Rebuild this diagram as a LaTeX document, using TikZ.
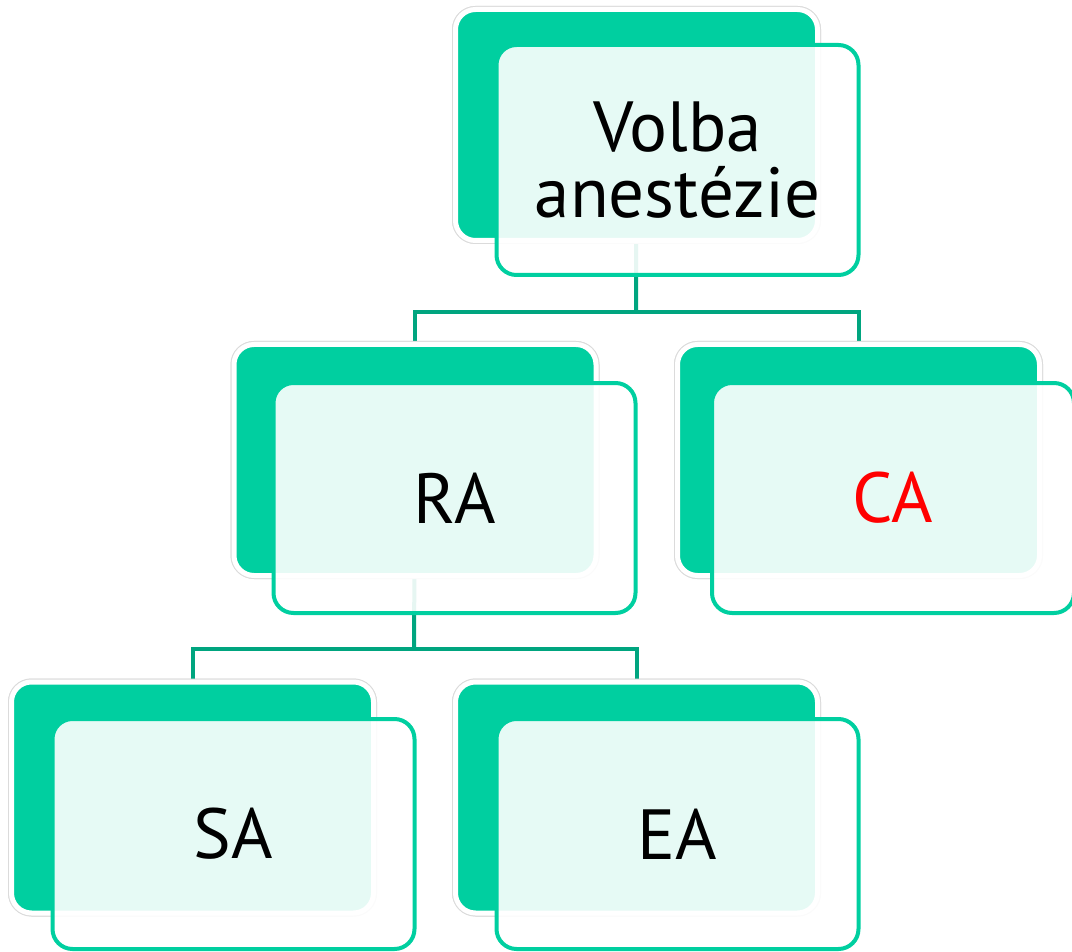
\documentclass[tikz,border=0pt]{standalone}
\usepackage{fontspec}
\setmainfont{PT Sans}
\definecolor{bgreen}{RGB}{0,207,160}
\definecolor{cgreen}{RGB}{0,165,127}
\begin{document}
\begin{tikzpicture}[x=1pt,y=-1pt,
  backbox/.style={rectangle, rounded corners=20pt, fill=bgreen, draw=white, line width=5pt,
    preaction={draw=black!14, line width=7pt}, minimum width=362pt, minimum height=231pt, inner sep=0pt},
  frontbox/.style={rectangle, rounded corners=20pt, fill=white, fill opacity=0.9, text opacity=1,
    draw=bgreen, line width=4pt, minimum width=362pt, minimum height=230pt, inner sep=0pt,
    font=\fontsize{71}{66}\selectfont, align=center},
  conn/.style={draw=cgreen, line width=4pt}]
\useasboundingbox (0,0) rectangle (1072,952);
\coordinate (j1) at (636,312);
\coordinate (j2) at (414,649);
\node[backbox] (topB) at (636.5,125) {};
\node[backbox] (raB) at (415,460) {};
\node[backbox] (caB) at (858.5,460) {};
\node[backbox] (saB) at (192.5,797.5) {};
\node[backbox] (eaB) at (636.5,797.5) {};
\draw[conn] (topB.center) -- (j1);
\draw[conn] (raB.north) |- (j1) -| (caB.north);
\draw[conn] (raB.center) -- (j2);
\draw[conn] (saB.north) |- (j2) -| (eaB.north);
\node[backbox] at (topB) {};
\node[backbox] at (raB) {};
\node[backbox] at (caB) {};
\node[backbox] at (saB) {};
\node[backbox] at (eaB) {};
\node[frontbox] (top) at (677.5,160) {Volba\\anestézie};
\node[frontbox] (ra) at (454.5,498) {RA};
\node[frontbox] (ca) at (893,498) {\textcolor{red}{CA}};
\node[frontbox] (sa) at (233.5,834) {SA};
\node[frontbox] (ea) at (677.5,834) {EA};
\end{tikzpicture}
\end{document}
